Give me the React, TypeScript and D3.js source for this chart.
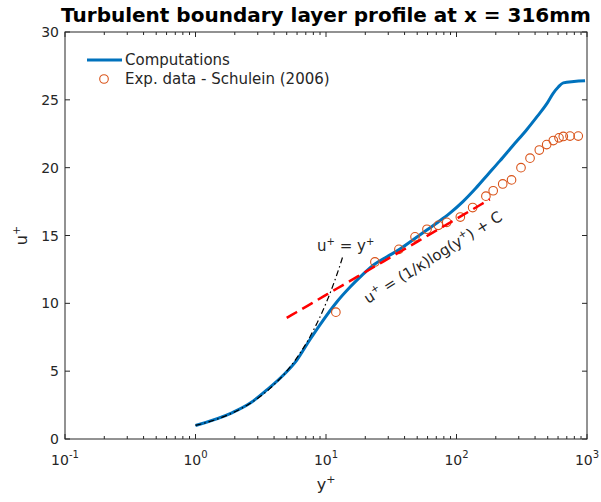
import React, { useEffect, useRef } from "react";
import * as d3 from "d3";

// Computed mean velocity profile (y+, u+)
const simYPlus = [1, 1.9, 2.63, 3.5, 4.7, 5.96, 7.5, 9.5, 12.1, 15.3, 19, 23.7, 29.5, 36.9, 46.8, 59.2, 72.4, 89, 112, 141, 174, 215, 269, 345, 417, 491, 552, 603, 658, 794, 966];
const simUPlus = [1.0, 1.93, 2.65, 3.6, 4.7, 5.8, 7.3, 8.75, 10.1, 11.2, 12.1, 12.9, 13.45, 14.0, 14.7, 15.4, 16.0, 16.65, 17.5, 18.5, 19.5, 20.5, 21.6, 22.8, 23.8, 24.7, 25.5, 25.95, 26.25, 26.35, 26.4];

// Measured profile, Schulein (2006)
const expYPlus = [11.9, 23.7, 36.2, 48.1, 59.4, 72.6, 84.2, 107, 133, 168, 191, 226, 264, 312, 366, 431, 491, 552, 610, 658, 741, 857];
const expUPlus = [9.35, 13.05, 13.98, 14.9, 15.46, 15.75, 15.97, 16.36, 17.06, 17.9, 18.3, 18.8, 19.1, 20.0, 20.7, 21.3, 21.7, 22.0, 22.2, 22.3, 22.33, 22.33];

// Wall laws
const kappa = 0.41;
const logLawC = 5.0;
const logLawRange = [5, 180];
const viscousRange = [1, 13.5];

// Axes
const xDomain = [0.1, 1000];
const yDomain = [0, 30];
const xTickValues = [0.1, 1, 10, 100, 1000];
const xTickExponents = ["-1", "0", "1", "2", "3"];
const yTickValues = [0, 5, 10, 15, 20, 25, 30];

const FONT = "'DejaVu Sans', Verdana, sans-serif";
const AXIS_COLOR = "#262626";
const BLUE = "#0072BD";
const ORANGE = "#D95319";

export default function App() {
  const ref = useRef<SVGSVGElement>(null);

  useEffect(() => {
    const svg = d3.select(ref.current);
    svg.selectAll("*").remove();

    const left = 65, right = 587, top = 32, bottom = 439;
    const x = d3.scaleLog().domain(xDomain).range([left, right]);
    const y = d3.scaleLinear().domain(yDomain).range([bottom, top]);

    svg.append("rect").attr("width", 601).attr("height", 502).attr("fill", "#fff");

    // Title
    svg.append("text")
      .attr("x", (left + right) / 2).attr("y", 22)
      .attr("text-anchor", "middle")
      .attr("font-family", FONT).attr("font-weight", "bold").attr("font-size", 20)
      .attr("fill", "#000")
      .text("Turbulent boundary layer profile at x = 316mm");

    const g = svg.append("g");

    // Box
    g.append("rect")
      .attr("x", left).attr("y", top).attr("width", right - left).attr("height", bottom - top)
      .attr("fill", "none").attr("stroke", AXIS_COLOR).attr("stroke-width", 1);

    // X ticks (major and minor), bottom and top, pointing inward
    const minor: number[] = [];
    for (let d = 0; d < xTickValues.length - 1; d++) {
      for (let k = 2; k <= 9; k++) minor.push(xTickValues[d] * k);
    }
    minor.forEach((v) => {
      const px = x(v);
      g.append("line").attr("x1", px).attr("x2", px).attr("y1", bottom).attr("y2", bottom - 3)
        .attr("stroke", AXIS_COLOR).attr("stroke-width", 1);
      g.append("line").attr("x1", px).attr("x2", px).attr("y1", top).attr("y2", top + 3)
        .attr("stroke", AXIS_COLOR).attr("stroke-width", 1);
    });
    xTickValues.forEach((v, i) => {
      const px = x(v);
      g.append("line").attr("x1", px).attr("x2", px).attr("y1", bottom).attr("y2", bottom - 5)
        .attr("stroke", AXIS_COLOR).attr("stroke-width", 1);
      g.append("line").attr("x1", px).attr("x2", px).attr("y1", top).attr("y2", top + 5)
        .attr("stroke", AXIS_COLOR).attr("stroke-width", 1);
      const t = g.append("text")
        .attr("x", px).attr("y", 465)
        .attr("text-anchor", "middle")
        .attr("font-family", FONT).attr("font-size", 14).attr("fill", AXIS_COLOR);
      t.append("tspan").text("10");
      t.append("tspan").attr("dy", -7).attr("font-size", 10).text(xTickExponents[i]);
    });

    // Y ticks, left and right
    yTickValues.forEach((v) => {
      const py = y(v);
      g.append("line").attr("x1", left).attr("x2", left + 5).attr("y1", py).attr("y2", py)
        .attr("stroke", AXIS_COLOR).attr("stroke-width", 1);
      g.append("line").attr("x1", right).attr("x2", right - 5).attr("y1", py).attr("y2", py)
        .attr("stroke", AXIS_COLOR).attr("stroke-width", 1);
      g.append("text")
        .attr("x", left - 6).attr("y", py + 5)
        .attr("text-anchor", "end")
        .attr("font-family", FONT).attr("font-size", 14).attr("fill", AXIS_COLOR)
        .text(String(v));
    });

    // Axis labels
    const xl = g.append("text")
      .attr("x", (left + right) / 2).attr("y", 490)
      .attr("text-anchor", "middle")
      .attr("font-family", FONT).attr("font-size", 16).attr("fill", AXIS_COLOR);
    xl.append("tspan").text("y");
    xl.append("tspan").attr("dy", -7).attr("font-size", 11).text("+");

    const yl = g.append("text")
      .attr("transform", `translate(27,${(top + bottom) / 2}) rotate(-90)`)
      .attr("text-anchor", "middle")
      .attr("font-family", FONT).attr("font-size", 16).attr("fill", AXIS_COLOR);
    yl.append("tspan").text("u");
    yl.append("tspan").attr("dy", -7).attr("font-size", 11).text("+");

    // Computed profile
    const simData = simYPlus.map((v, i) => [v, simUPlus[i]] as [number, number]);
    const line = d3.line<[number, number]>()
      .x((d) => x(d[0])).y((d) => y(d[1]))
      .curve(d3.curveMonotoneX);
    g.append("path").datum(simData).attr("d", line)
      .attr("fill", "none").attr("stroke", BLUE).attr("stroke-width", 3)
      .attr("stroke-linejoin", "round");

    // Experimental points
    g.selectAll("circle.exp").data(expYPlus).enter().append("circle")
      .attr("class", "exp")
      .attr("cx", (d) => x(d)).attr("cy", (_, i) => y(expUPlus[i]))
      .attr("r", 4.3)
      .attr("fill", "none").attr("stroke", ORANGE).attr("stroke-width", 1.1);

    // Log law: u+ = (1/kappa) ln(y+) + C
    const logSamples = d3.range(0, 41).map((i) => {
      const lv = Math.log10(logLawRange[0]) + (i / 40) * (Math.log10(logLawRange[1]) - Math.log10(logLawRange[0]));
      const yp = Math.pow(10, lv);
      return [yp, Math.log(yp) / kappa + logLawC] as [number, number];
    });
    const plain = d3.line<[number, number]>().x((d) => x(d[0])).y((d) => y(d[1]));
    g.append("path").datum(logSamples).attr("d", plain)
      .attr("fill", "none").attr("stroke", "#FF0000").attr("stroke-width", 2.5)
      .attr("stroke-dasharray", "12,6");

    // Viscous sublayer: u+ = y+
    const linSamples = d3.range(0, 41).map((i) => {
      const lv = Math.log10(viscousRange[0]) + (i / 40) * (Math.log10(viscousRange[1]) - Math.log10(viscousRange[0]));
      const yp = Math.pow(10, lv);
      return [yp, yp] as [number, number];
    });
    g.append("path").datum(linSamples).attr("d", plain)
      .attr("fill", "none").attr("stroke", "#000").attr("stroke-width", 1.2)
      .attr("stroke-dasharray", "6,3,1.5,3");

    // Annotations
    const a1 = g.append("text")
      .attr("x", 317).attr("y", 251)
      .attr("font-family", FONT).attr("font-size", 15).attr("fill", AXIS_COLOR);
    a1.append("tspan").text("u");
    a1.append("tspan").attr("dy", -6).attr("font-size", 10).text("+");
    a1.append("tspan").attr("dy", 6).text(" = y");
    a1.append("tspan").attr("dy", -6).attr("font-size", 10).text("+");

    const a2 = g.append("text")
      .attr("transform", "translate(368,304) rotate(-32)")
      .attr("font-family", FONT).attr("font-size", 15).attr("fill", AXIS_COLOR);
    a2.append("tspan").text("u");
    a2.append("tspan").attr("dy", -6).attr("font-size", 10).text("+");
    a2.append("tspan").attr("dy", 6).text(" = (1/\u03BA)log(y");
    a2.append("tspan").attr("dy", -6).attr("font-size", 10).text("+");
    a2.append("tspan").attr("dy", 6).text(") + C");

    // Legend
    g.append("line").attr("x1", 87).attr("x2", 122).attr("y1", 60).attr("y2", 60)
      .attr("stroke", BLUE).attr("stroke-width", 3);
    g.append("text").attr("x", 125).attr("y", 65)
      .attr("font-family", FONT).attr("font-size", 15).attr("fill", AXIS_COLOR)
      .text("Computations");
    g.append("circle").attr("cx", 104).attr("cy", 79).attr("r", 4.3)
      .attr("fill", "none").attr("stroke", ORANGE).attr("stroke-width", 1.1);
    g.append("text").attr("x", 125).attr("y", 84)
      .attr("font-family", FONT).attr("font-size", 15).attr("fill", AXIS_COLOR)
      .text("Exp. data - Schulein (2006)");
  }, []);

  return (
    <svg
      ref={ref}
      width={601}
      height={502}
      style={{ position: "absolute", left: 0, top: 0, display: "block" }}
    />
  );
}
